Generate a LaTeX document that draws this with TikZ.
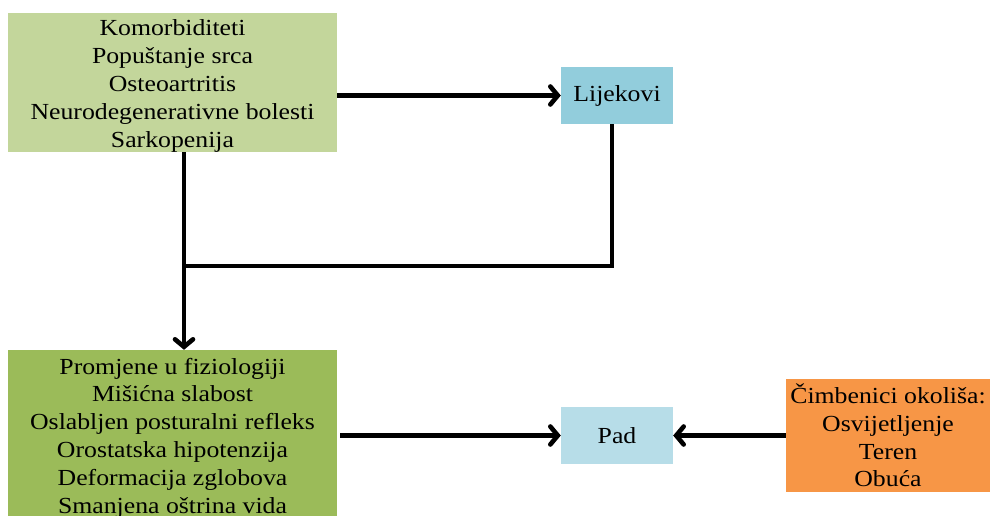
\documentclass[tikz,border=0pt]{standalone}
\usepackage{fontspec}
\setmainfont{Liberation Serif}[FakeStretch=1.12]
\usetikzlibrary{arrows.meta}
\definecolor{topgreen}{HTML}{C3D69B}
\definecolor{botgreen}{HTML}{9BBB59}
\definecolor{lijblue}{HTML}{92CDDC}
\definecolor{padblue}{HTML}{B7DDE8}
\definecolor{envorange}{HTML}{F79646}
\tikzset{
  box/.style={inner sep=0pt, align=center, font=\fontsize{23}{27.8}\selectfont},
  txt/.style={inner sep=0pt, align=center, font=\fontsize{23}{27.8}\selectfont},
  conn/.style={line width=4.6pt, line join=miter, -{Straight Barb[length=7.5pt,width=18pt,line cap=round]}},
  plain/.style={line width=4.6pt, line join=miter}
}
\begin{document}
\begin{tikzpicture}[x=1pt,y=-1pt]
\useasboundingbox (0,0) rectangle (990,515);
\begin{scope}
\clip (0,0) rectangle (990,515);
\node[box, fill=topgreen, minimum width=329pt, minimum height=139pt] (top) at (172.5,82.5) {};
\node[txt] (toptext) at (172.5,86)
  {Komorbiditeti\\Popuštanje srca\\Osteoartritis\\Neurodegenerativne bolesti\\Sarkopenija};
\node[box, fill=lijblue, minimum width=112pt, minimum height=57pt] (lij) at (617,95.5) {Lijekovi};
\node[box, fill=botgreen, minimum width=329pt, minimum height=190pt] (bot) at (172.5,445) {};
\node[txt] (bottext) at (172.5,438)
  {Promjene u fiziologiji\\Mišićna slabost\\Oslabljen posturalni refleks\\Orostatska hipotenzija\\Deformacija zglobova\\Smanjena oštrina vida};
\node[box, fill=padblue, minimum width=112pt, minimum height=57pt] (pad) at (617,435.5) {Pad};
\node[box, fill=envorange, minimum width=204pt, minimum height=113pt] (env) at (888,435.5)
  {Čimbenici okoliša:\\Osvijetljenje\\Teren\\Obuća};
\coordinate (j) at (184,266);
\coordinate (k) at (612,266);
\draw[conn] (top.east |- lij.west) -- (lij.west);
\draw[conn] (top.south -| j) -- (bot.north -| j);
\draw[plain] (lij.south -| k) -- (k) -- (j);
\draw[conn] ([xshift=3pt]bot.east |- pad.west) -- (pad.west);
\draw[conn] (env.west) -- (pad.east);
\end{scope}
\end{tikzpicture}
\end{document}
